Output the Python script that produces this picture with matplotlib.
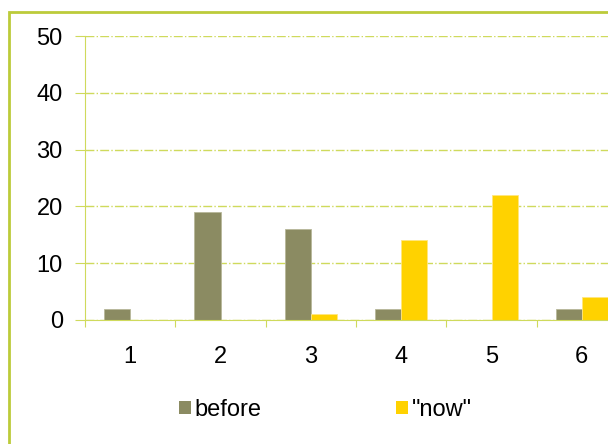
import matplotlib.pyplot as plt
from matplotlib.patches import Rectangle, Patch
import numpy as np

plt.rcParams['font.family'] = ['Liberation Sans', 'DejaVu Sans']

# data
categories = ['1', '2', '3', '4', '5', '6']
before = [2, 19, 16, 2, 0, 2]
now = [0, 0, 1, 14, 22, 4]
yticks = [0, 10, 20, 30, 40, 50]

c_before = '#8b8b62'
c_now = '#ffd200'
c_line = '#cfda5c'
c_frame = '#bccb3a'

fig = plt.figure(figsize=(6.08, 4.44), dpi=100)

# outer frame (cut off on the right and bottom, as in the picture)
fig.patches.append(Rectangle((9 / 608, -0.2), 1.2, 1.2 - 12 / 444,
                             transform=fig.transFigure, fill=False,
                             edgecolor=c_frame, linewidth=2))

ax = fig.add_axes([85 / 608, 1 - 320 / 444, 542 / 608, 284 / 444])

x = np.arange(len(categories)) + 0.5
w = 0.288
ax.bar(x - w / 2, before, w, color=c_before, edgecolor='#b8b89a', linewidth=0.6)
ax.bar(x + w / 2, now, w, color=c_now, edgecolor='#ffe680', linewidth=0.6)

ax.set_xlim(0, 6)
ax.set_ylim(0, 50)
ax.set_yticks(yticks)
ax.set_xticks(np.arange(0, 7))
ax.set_xticklabels([])
ax.set_xticks(x, minor=True)
ax.set_xticklabels(categories, minor=True)

ax.tick_params(axis='y', length=7, color=c_line, labelsize=17, pad=9)
ax.tick_params(axis='x', which='major', length=5, color=c_line)
ax.tick_params(axis='x', which='minor', length=0, labelsize=17, pad=19)

ax.grid(axis='y', color=c_line, linestyle='-.', linewidth=1)
ax.set_axisbelow(True)
for s in ['top', 'right']:
    ax.spines[s].set_visible(False)
ax.spines['left'].set_color(c_line)
ax.spines['bottom'].set_color(c_line)

handles = [Patch(facecolor=c_before), Patch(facecolor=c_now)]
fig.legend(handles, ['before', '"now"'], loc='center', bbox_to_anchor=(0.535, 0.077),
           ncol=2, frameon=False, fontsize=17, handlelength=0.5, handleheight=0.5,
           handletextpad=0.15, columnspacing=5.7)

fig.savefig('out.png', dpi=100)
